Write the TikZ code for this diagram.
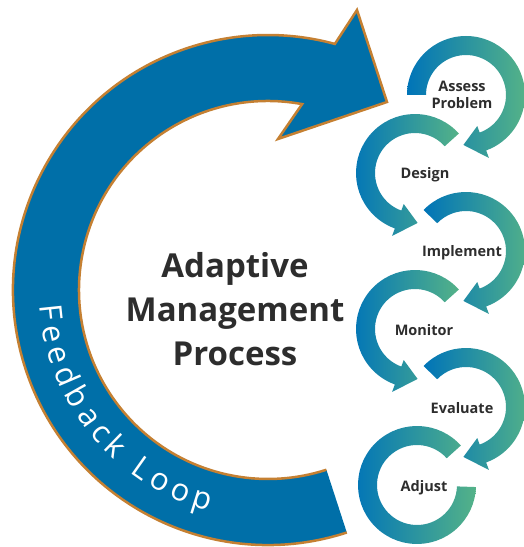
\documentclass[tikz,border=0pt]{standalone}
\usepackage{fontspec}
\setmainfont{Open Sans}
\usepackage{tikz}
\usetikzlibrary{decorations.text}
\definecolor{loopblue}{RGB}{0,111,168}
\definecolor{loopedge}{RGB}{197,128,50}
\definecolor{ringblue}{RGB}{0,116,184}
\definecolor{ringgreen}{RGB}{84,178,136}
\definecolor{labelgray}{RGB}{45,45,45}

\begin{document}
\begin{tikzpicture}[
  x=1pt, y=1pt,
  bigarrow/.style={fill=loopblue,draw=loopedge,line width=2.5pt,line join=miter},
  ring/.style={left color=ringblue,right color=ringgreen},
  phase/.style={align=center,font=\bfseries\fontsize{14.5}{17}\selectfont,text=labelgray,inner sep=0pt},
  heading/.style={align=center,font=\bfseries\fontsize{33}{44}\selectfont,text=labelgray,inner sep=0pt}
]
  \useasboundingbox (0,0) rectangle (524,547);

  % Feedback loop arrow
  \path[bigarrow,shift={(268,257)}] (288:255) arc[start angle=288,end angle=74.8,radius=255]
    -- (89,280) -- (119,188) -- (10,151)
    -- (79.6:189) arc[start angle=79.6,end angle=288,radius=189];
  \path[shift={(268,257)},decorate,decoration={text along path,text color=white,
      text={|\fontsize{31}{31}\selectfont|Feedback Loop},text align={fit to path}}]
    (184:229) arc[start angle=184,end angle=255,radius=229];

  % Centre title
  \node[heading] (title) at (235,238) {Adaptive\\Management\\Process};

  % Step rings, right column (clockwise)
  \shade[ring,shift={(466,452)}] (180:59) arc[start angle=180,end angle=-70,radius=59]
    -- (-70:67) -- (-93:50) -- (-70:33) -- (-70:40) arc[start angle=-70,end angle=180,radius=40] -- cycle;
  \shade[ring,shift={(466,296)}] (136:59) arc[start angle=136,end angle=-70,radius=59]
    -- (-70:67) -- (-93:50) -- (-70:33) -- (-70:40) arc[start angle=-70,end angle=136,radius=40] -- cycle;
  \shade[ring,shift={(466,140)}] (136:59) arc[start angle=136,end angle=-70,radius=59]
    -- (-70:67) -- (-93:50) -- (-70:33) -- (-70:40) arc[start angle=-70,end angle=136,radius=40] -- cycle;

  % Step rings, left column (counter-clockwise)
  \shade[ring,shift={(415,374)}] (42:59) arc[start angle=42,end angle=250,radius=59]
    -- (250:67) -- (273:50) -- (250:33) -- (250:40) arc[start angle=250,end angle=42,radius=40] -- cycle;
  \shade[ring,shift={(415,218)}] (42:59) arc[start angle=42,end angle=250,radius=59]
    -- (250:67) -- (273:50) -- (250:33) -- (250:40) arc[start angle=250,end angle=42,radius=40] -- cycle;
  \shade[ring,shift={(417,62)}] (42:59) arc[start angle=42,end angle=358,radius=59]
    -- (358:40) arc[start angle=358,end angle=42,radius=40] -- cycle;

  % Step labels
  \node[phase] (assess)    at (462,452) {Assess\\Problem};
  \node[phase] (design)    at (425,372) {Design};
  \node[phase] (implement) at (462,294) {Implement};
  \node[phase] (monitor)   at (424,217) {Monitor};
  \node[phase] (evaluate)  at (462,139) {Evaluate};
  \node[phase] (adjust)    at (424,59)  {Adjust};
\end{tikzpicture}
\end{document}
